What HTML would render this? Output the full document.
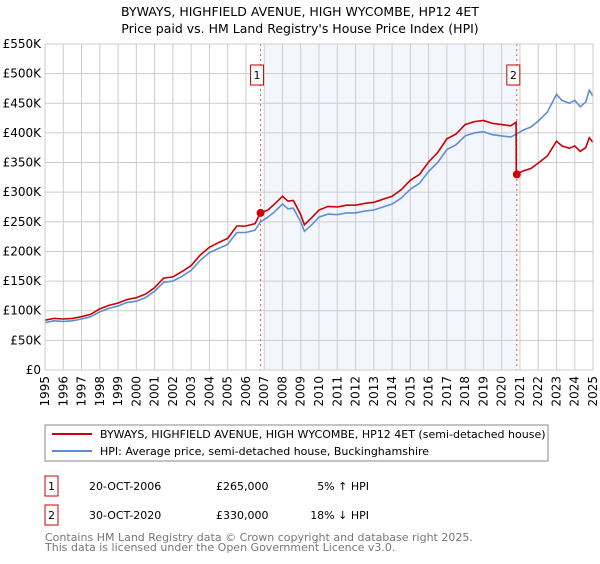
<!DOCTYPE html>
<html><head><meta charset="utf-8"><style>
body{margin:0;background:#fff;font-family:"DejaVu Sans","Liberation Sans",sans-serif;}
svg text{font-family:"DejaVu Sans","Liberation Sans",sans-serif;}
</style></head><body>
<svg id="chart" width="600" height="560" xmlns="http://www.w3.org/2000/svg">
<text x="300" y="16" text-anchor="middle" font-size="12.5">BYWAYS, HIGHFIELD AVENUE, HIGH WYCOMBE, HP12 4ET</text>
<text x="300" y="33" text-anchor="middle" font-size="12.5">Price paid vs. HM Land Registry's House Price Index (HPI)</text>
<g id="plot"></g>
<g>
<rect x="45" y="425" width="503" height="36" fill="#fff" stroke="#888"/>
<line x1="52" y1="434" x2="92" y2="434" stroke="#cc0000" stroke-width="2"/>
<text x="100" y="438" font-size="11">BYWAYS, HIGHFIELD AVENUE, HIGH WYCOMBE, HP12 4ET (semi-detached house)</text>
<line x1="52" y1="451" x2="92" y2="451" stroke="#5b8fd4" stroke-width="2"/>
<text x="100" y="455" font-size="11">HPI: Average price, semi-detached house, Buckinghamshire</text>
</g>
<g>
<rect x="45" y="476" width="13" height="20" fill="#fff" stroke="#cc0000"/>
<text x="51.5" y="490" font-size="11" text-anchor="middle">1</text>
<text x="89" y="490" font-size="11">20-OCT-2006</text>
<text x="216" y="490" font-size="11">£265,000</text>
<text x="369" y="490" font-size="11" text-anchor="end">5% ↑ HPI</text>
<rect x="45" y="505" width="13" height="20" fill="#fff" stroke="#cc0000"/>
<text x="51.5" y="519" font-size="11" text-anchor="middle">2</text>
<text x="89" y="519" font-size="11">30-OCT-2020</text>
<text x="216" y="519" font-size="11">£330,000</text>
<text x="369" y="519" font-size="11" text-anchor="end">18% ↓ HPI</text>
</g>
<text x="45" y="541" font-size="11" fill="#777">Contains HM Land Registry data © Crown copyright and database right 2025.</text>
<text x="45" y="551" font-size="11" fill="#777">This data is licensed under the Open Government Licence v3.0.</text>
</svg>
<script>
const yTicks=[0,50,100,150,200,250,300,350,400,450,500,550];
const yTickLabels=["£0","£50K","£100K","£150K","£200K","£250K","£300K","£350K","£400K","£450K","£500K","£550K"];
const xYears=[1995,1996,1997,1998,1999,2000,2001,2002,2003,2004,2005,2006,2007,2008,2009,2010,2011,2012,2013,2014,2015,2016,2017,2018,2019,2020,2021,2022,2023,2024,2025];
const hpiDates=[1995,1995.5,1996,1996.5,1997,1997.5,1998,1998.5,1999,1999.5,2000,2000.5,2001,2001.5,2002,2002.5,2003,2003.5,2004,2004.5,2005,2005.5,2006,2006.5,2006.8,2007.2,2007.5,2008,2008.3,2008.6,2009,2009.2,2009.6,2010,2010.5,2011,2011.5,2012,2012.5,2013,2013.5,2014,2014.5,2015,2015.5,2016,2016.5,2017,2017.5,2018,2018.5,2019,2019.5,2020,2020.5,2020.8,2021.2,2021.6,2022,2022.5,2023,2023.3,2023.7,2024,2024.3,2024.6,2024.8,2025];
const hpiValues=[80,83,82,83,86,90,98,104,108,114,116,122,133,148,150,158,168,185,198,205,212,232,232,236,250,258,265,280,272,273,250,234,245,258,263,262,265,265,268,270,275,280,290,305,315,335,350,372,380,395,400,402,397,395,393,398,405,410,420,435,465,455,450,455,444,452,472,462];
const priceDates=[1995,1995.5,1996,1996.5,1997,1997.5,1998,1998.5,1999,1999.5,2000,2000.5,2001,2001.5,2002,2002.5,2003,2003.5,2004,2004.5,2005,2005.5,2006,2006.5,2006.8,2007.2,2007.5,2008,2008.3,2008.6,2009,2009.2,2009.6,2010,2010.5,2011,2011.5,2012,2012.5,2013,2013.5,2014,2014.5,2015,2015.5,2016,2016.5,2017,2017.5,2018,2018.5,2019,2019.5,2020,2020.5,2020.79,2020.8,2021.2,2021.6,2022,2022.5,2023,2023.3,2023.7,2024,2024.3,2024.6,2024.8,2025];
const priceValues=[84,87,86,87,90,94,103,109,113,119,122,128,139,155,157,166,176,194,207,215,222,243,243,247,265,270,278,293,285,286,262,245,257,270,276,275,278,278,281,283,288,293,304,320,330,351,367,390,398,414,419,421,416,414,412,418,330,336,340,349,361,386,378,374,378,369,375,392,384];
const saleDates=[2006.8,2020.83];
const saleValues=[265,330];
const saleLabels=["1","2"];

const NS="http://www.w3.org/2000/svg";
const X0=45,X1=593,Y0=370,Y1=44;
const x=t=>X0+(t-1995)*(X1-X0)/30;
const y=v=>Y0-v*(Y0-Y1)/550;
const g=document.getElementById('plot');
function mk(tag,attrs,parent){const e=document.createElementNS(NS,tag);for(const k in attrs)e.setAttribute(k,attrs[k]);(parent||g).appendChild(e);return e;}

const shade=mk('rect',{x:x(2007),y:Y1,width:x(saleDates[1])-x(2007),height:Y0-Y1,fill:'#eef3fc',opacity:0.7});



yTicks.forEach((v,i)=>{
 const l=mk('line',{x1:X0,x2:X1,y1:y(v),y2:y(v),stroke:'#cccccc'});
 
 
 const t=mk('text',{x:X0-4,y:y(v)+4,'text-anchor':'end','font-size':'12'});
 t.textContent=yTickLabels[i];
 
 
});
xYears.forEach(yr=>{
 const l=mk('line',{x1:x(yr),x2:x(yr),y1:Y1,y2:Y0,stroke:'#cccccc'});
 
 
 const t=mk('text',{x:0,y:0,'font-size':'12','text-anchor':'end',transform:`translate(${x(yr)+4},${Y0+6}) rotate(-90)`});
 t.textContent=yr;
 
 
});

saleDates.forEach((d,i)=>{
 const l=mk('line',{x1:x(d),x2:x(d),y1:Y1,y2:Y0,stroke:'#ee5555','stroke-dasharray':'2,3','stroke-width':1});
 
 
 const r=mk('rect',{x:x(d)-10,y:65,width:13,height:20,fill:'#fff',stroke:'#cc0000'});
 
 
 const t=mk('text',{x:x(d)-3.5,y:79,'font-size':'11','text-anchor':'middle'});
 t.textContent=saleLabels[i];
 
 
});

const hp=mk('path',{d:hpiDates.map((d,i)=>(i?'L':'M')+x(d).toFixed(1)+','+y(hpiValues[i]).toFixed(1)).join(''),fill:'none',stroke:'#5b8fd4','stroke-width':1.6});


const pp=mk('path',{d:priceDates.map((d,i)=>(i?'L':'M')+x(d).toFixed(1)+','+y(priceValues[i]).toFixed(1)).join(''),fill:'none',stroke:'#cc0000','stroke-width':1.6});


saleDates.forEach((d,i)=>{
 const c=mk('circle',{cx:x(d),cy:y(saleValues[i]),r:4,fill:'#cc0000'});
 
 
});
const ax=mk('rect',{x:X0,y:Y1,width:X1-X0,height:Y0-Y1,fill:'none',stroke:'#cccccc'});


</script>
</body></html>
